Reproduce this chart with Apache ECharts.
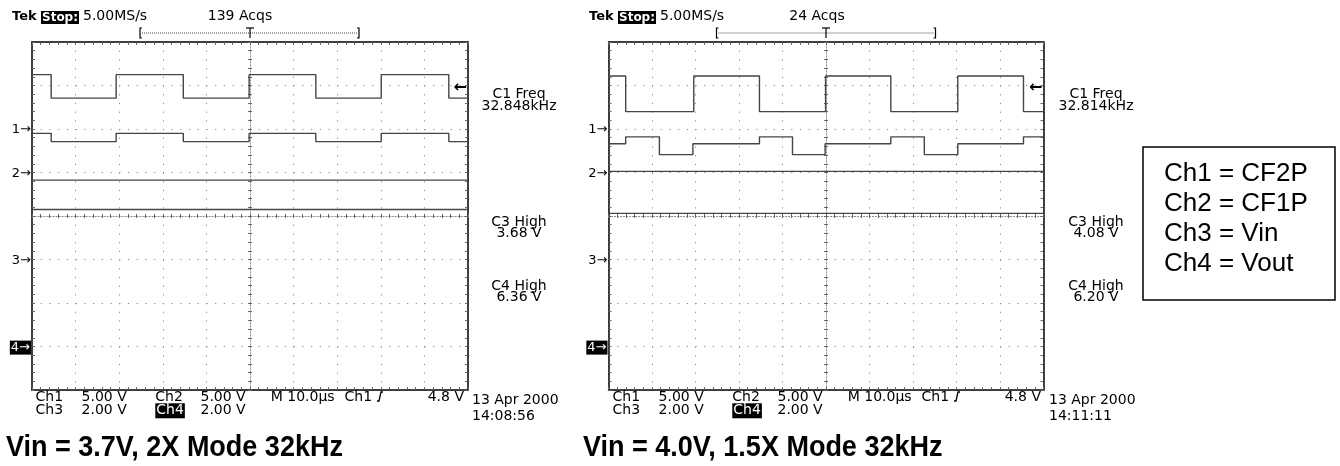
<!DOCTYPE html>
<html><head><meta charset="utf-8">
<script src="https://cdn.jsdelivr.net/npm/echarts@6/dist/echarts.min.js"></script>
<style>html,body{margin:0;padding:0;background:#fff}#c{width:1340px;height:466px}</style>
</head><body><div id="c"></div>
<script>
// ---------------- DATA ----------------
// time axis: 0..100 µs (10 µs/div), vertical axis: 0..8 divisions
const timeTicks = [0, 10, 20, 30, 40, 50, 60, 70, 80, 90, 100];
// channel ground markers (divisions from bottom) and volts/div
const chNames = ['1', '2', '3', '4'];
const chGround = [6, 5, 3, 1];
const chVoltsPerDiv = [5, 5, 2, 2];

// Left scope: Vin = 3.7V, 2X mode
const L_ch1_t = [0, 4.4, 19.3, 34.7, 49.8, 65.1, 80.1, 95.6, 100];
const L_ch1_v = [6.25, 3.55, 6.25, 3.55, 6.25, 3.55, 6.25, 3.55, 3.55];
const L_ch2_t = [0, 4.4, 19.3, 34.7, 49.8, 65.1, 80.1, 95.6, 100];
const L_ch2_v = [4.5, 3.55, 4.5, 3.55, 4.5, 3.55, 4.5, 3.55, 3.55];
const L_ch3_t = [0, 100];
const L_ch3_v = [3.65, 3.65];
const L_ch4_t = [0, 100];
const L_ch4_v = [6.3, 6.3];

// Right scope: Vin = 4.0V, 1.5X mode
const R_ch1_t = [0, 3.95, 19.6, 34.7, 49.9, 64.9, 80.3, 95.4, 100];
const R_ch1_v = [6.1, 2.0, 6.1, 2.0, 6.1, 2.0, 6.1, 2.0, 2.0];
const R_ch2_t = [0, 3.95, 11.7, 19.4, 34.7, 42.3, 49.8, 64.9, 72.6, 80.3, 95.4, 100];
const R_ch2_v = [3.3, 4.1, 2.05, 3.3, 4.1, 2.05, 3.3, 4.1, 2.05, 3.3, 4.1, 4.1];
const R_ch3_t = [0, 100];
const R_ch3_v = [4.05, 4.05];
const R_ch4_t = [0, 100];
const R_ch4_v = [6.12, 6.12];

// texts
const acqs = ['139 Acqs', '24 Acqs'];
const measFreq = ['32.848kHz', '32.814kHz'];
const measC3 = ['3.68 V', '4.08 V'];
const measC4 = ['6.36 V', '6.20 V'];
const dates = ['13 Apr 2000', '13 Apr 2000'];
const times = ['14:08:56', '14:11:11'];
const titles = ['Vin = 3.7V, 2X Mode 32kHz', 'Vin = 4.0V, 1.5X Mode 32kHz'];
const legendLines = ['Ch1 = CF2P', 'Ch2 = CF1P', 'Ch3 = Vin', 'Ch4 = Vout'];

// ---------------- LAYOUT ----------------
const GRIDS = [
  {left: 32, top: 42, width: 436, height: 348},
  {left: 608.5, top: 42, width: 435, height: 348}
];
const DX = [0, 577];
const FONT = '"DejaVu Sans", Verdana, sans-serif';
const ARIAL = '"Liberation Sans", Arial, sans-serif';

const xAxes = [], yAxes = [], series = [];
const tickStyle = {color: '#666', width: 1};

GRIDS.forEach((G, g) => {
  const dotH = G.width / 50, dotV = G.height / 40;
  const cx = {gridIndex: g, type: 'value', min: timeTicks[0], max: timeTicks[timeTicks.length - 1],
    interval: timeTicks[1] - timeTicks[0], axisLabel: {show: false}, splitLine: {show: false}};
  const cy = {gridIndex: g, type: 'value', min: 0, max: 8, interval: 1,
    axisLabel: {show: false}, splitLine: {show: false}};
  const border = {show: true, onZero: false, lineStyle: {color: '#000', width: 1.5}};
  const tin = {show: true, inside: true, length: 3, lineStyle: tickStyle};
  const mt = {show: true, splitNumber: 5, length: 3, lineStyle: tickStyle};
  xAxes.push(Object.assign({}, cx, {position: 'bottom', axisLine: border, axisTick: tin, minorTick: mt,
    splitLine: {show: true, lineStyle: {color: '#8a8a8a', width: 1, type: [1.2, dotV - 1.2]}}}));
  const xMain = xAxes.length - 1;
  xAxes.push(Object.assign({}, cx, {position: 'top', axisLine: border, axisTick: tin, minorTick: mt}));
  xAxes.push(Object.assign({}, cx, {position: 'bottom', offset: -G.height / 2,
    axisLine: {show: true, onZero: false, lineStyle: {color: '#8a8a8a', width: 1, type: [1.2, 1.8]}},
    axisTick: {show: true, inside: true, length: 2, lineStyle: tickStyle},
    minorTick: {show: true, splitNumber: 5, length: 2, lineStyle: tickStyle}}));
  xAxes.push(Object.assign({}, cx, {position: 'bottom', offset: -G.height / 2,
    axisLine: {show: false, onZero: false},
    axisTick: {show: true, inside: false, length: 2, lineStyle: tickStyle},
    minorTick: {show: true, splitNumber: 5, length: 2, lineStyle: tickStyle}}));
  yAxes.push(Object.assign({}, cy, {position: 'left', axisLine: border, axisTick: tin, minorTick: mt,
    splitLine: {show: true, lineStyle: {color: '#8a8a8a', width: 1, type: [1.2, dotH - 1.2]}}}));
  const yMain = yAxes.length - 1;
  yAxes.push(Object.assign({}, cy, {position: 'right', axisLine: border, axisTick: tin, minorTick: mt}));
  yAxes.push(Object.assign({}, cy, {position: 'left', offset: -G.width / 2,
    axisLine: {show: true, onZero: false, lineStyle: {color: '#8a8a8a', width: 1, type: [1.2, 1.8]}},
    axisTick: {show: true, inside: true, length: 2, lineStyle: tickStyle},
    minorTick: {show: true, splitNumber: 5, length: 2, lineStyle: tickStyle}}));
  yAxes.push(Object.assign({}, cy, {position: 'left', offset: -G.width / 2,
    axisLine: {show: false, onZero: false},
    axisTick: {show: true, inside: false, length: 2, lineStyle: tickStyle},
    minorTick: {show: true, splitNumber: 5, length: 2, lineStyle: tickStyle}}));

  const chans = g === 0
    ? [[L_ch1_t, L_ch1_v], [L_ch2_t, L_ch2_v], [L_ch3_t, L_ch3_v], [L_ch4_t, L_ch4_v]]
    : [[R_ch1_t, R_ch1_v], [R_ch2_t, R_ch2_v], [R_ch3_t, R_ch3_v], [R_ch4_t, R_ch4_v]];
  chans.forEach(([ts, vs], c) => {
    series.push({
      type: 'line', name: 'Ch' + chNames[c], xAxisIndex: xMain, yAxisIndex: yMain,
      step: 'end', showSymbol: false, symbol: 'none', silent: true, z: 5,
      lineStyle: {color: '#454545', width: 1.4},
      data: ts.map((t, i) => [t, chGround[c] + vs[i] / chVoltsPerDiv[c]])
    });
  });
});

// ---------------- GRAPHIC (scope screen annotations) ----------------
function txt(x, base, s, o) {
  o = o || {};
  const size = o.size || 14;
  const st = {text: s, x: 0, y: 0,
    font: (o.weight || 'normal') + ' ' + size + 'px ' + (o.family || FONT),
    fill: o.fill || '#000', align: o.align || 'left', verticalAlign: 'middle'};
  if (o.bg) { st.backgroundColor = o.bg; st.padding = o.pad || [1, 1, 0, 1]; }
  return {type: 'text', silent: true, z: 100, x: x, y: base - 0.3 * size,
    scaleX: o.sx || 1, scaleY: 1, style: st};
}
function pl(points, o) {
  o = o || {};
  return {type: 'polyline', silent: true, z: 100, shape: {points: points},
    style: {stroke: o.stroke || '#000', lineWidth: o.w || 1, fill: null, lineDash: o.dash || null}};
}
const gfx = [];
GRIDS.forEach((G, g) => {
  const dx = DX[g];
  const gx = G.left, gy = G.top, gw = G.width, gh = G.height, div = gh / 8;
  gfx.push(txt(12 + dx, 21, 'Tek', {weight: 'bold', size: 13}));
  gfx.push(txt(41 + dx, 21, 'Stop:', {fill: '#fff', bg: '#000', weight: 'bold', size: 12, pad: [1, 1, 0, 1]}));
  gfx.push(txt(83 + dx, 21, '5.00MS/s'));
  gfx.push(txt(240 + dx, 21, acqs[g], {align: 'center'}));
  const bl = gx + 108, br = gx + 327, bc = gx + gw / 2, by = 33;
  gfx.push(pl([[bl + 2, by - 5], [bl, by - 5], [bl, by + 5], [bl + 2, by + 5]], {w: 1.2}));
  gfx.push(pl([[br - 2, by - 5], [br, by - 5], [br, by + 5], [br - 2, by + 5]], {w: 1.2}));
  gfx.push(pl([[bl + 2, by], [br - 2, by]], {w: 1, dash: [1, 1], stroke: '#444'}));
  gfx.push(pl([[bc - 4, by - 5], [bc + 4, by - 5]], {w: 1.2}));
  gfx.push(pl([[bc, by - 5], [bc, by + 5]], {w: 1.2}));
  chNames.forEach((n, c) => {
    const yy = gy + gh - chGround[c] * div;
    if (c === 3) gfx.push(txt(gx - 1, yy + 5, n + '→', {align: 'right', size: 13, fill: '#fff', bg: '#000', pad: [1, 1, 0, 1]}));
    else gfx.push(txt(gx - 1, yy + 5, n + '→', {align: 'right', size: 13}));
  });
  const trigY = gy + gh - (chGround[0] + 4.8 / chVoltsPerDiv[0]) * div;
  gfx.push(txt(gx + gw - 1, trigY + 5, '←', {align: 'right', weight: 'bold', size: 16}));
  const mx = 519 + dx;
  gfx.push(txt(mx, 99, 'C1 Freq', {align: 'center'}));
  gfx.push(txt(mx, 111, measFreq[g], {align: 'center'}));
  gfx.push(txt(mx, 227, 'C3 High', {align: 'center'}));
  gfx.push(txt(mx, 238, measC3[g], {align: 'center'}));
  gfx.push(txt(mx, 291, 'C4 High', {align: 'center'}));
  gfx.push(txt(mx, 302, measC4[g], {align: 'center'}));
  gfx.push(txt(35.5 + dx, 402, 'Ch1'));
  gfx.push(txt(81.6 + dx, 402, '5.00 V'));
  gfx.push(txt(155.3 + dx, 402, 'Ch2'));
  gfx.push(txt(200.5 + dx, 402, '5.00 V'));
  gfx.push(txt(270.7 + dx, 402, 'M 10.0µs'));
  gfx.push(txt(344.5 + dx, 402, 'Ch1'));
  // rising-edge trigger slope symbol
  const sx0 = 377 + dx;
  gfx.push(pl([[sx0, 401], [sx0 + 2, 401], [sx0 + 4, 392], [sx0 + 6, 392]], {w: 1.3}));
  gfx.push(txt(427.7 + dx, 402, '4.8 V'));
  gfx.push(txt(35.5 + dx, 415, 'Ch3'));
  gfx.push(txt(81.6 + dx, 415, '2.00 V'));
  gfx.push(txt(155.3 + dx, 415, 'Ch4', {fill: '#fff', bg: '#000'}));
  gfx.push(txt(200.5 + dx, 415, '2.00 V'));
  gfx.push(txt(472 + dx, 405, dates[g]));
  gfx.push(txt(472 + dx, 421, times[g]));
});
gfx.push(txt(6, 457, titles[0], {family: ARIAL, weight: 'bold', size: 30, sx: 0.9}));
gfx.push(txt(583, 457, titles[1], {family: ARIAL, weight: 'bold', size: 30, sx: 0.9}));
gfx.push({type: 'rect', silent: true, z: 100, shape: {x: 1143, y: 147, width: 192, height: 153},
  style: {stroke: '#000', lineWidth: 1.5, fill: null}});
legendLines.forEach((s, i) => gfx.push(txt(1164, 182 + 30 * i, s, {family: ARIAL, size: 26})));

const chart = echarts.init(document.getElementById('c'), null, {renderer: 'canvas'});
chart.setOption({
  animation: false,
  backgroundColor: '#fff',
  grid: GRIDS.map(G => Object.assign({containLabel: false, show: false}, G)),
  xAxis: xAxes,
  yAxis: yAxes,
  series: series,
  graphic: {elements: gfx}
});
</script>
</body></html>
